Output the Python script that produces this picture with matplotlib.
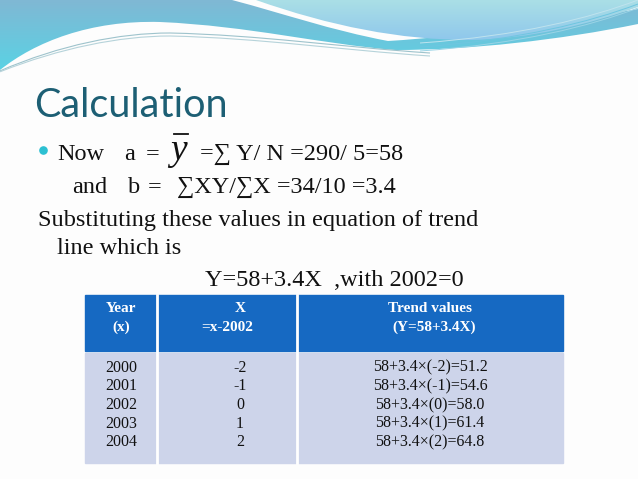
import numpy as np
import matplotlib
matplotlib.use("Agg")
import matplotlib.pyplot as plt
from matplotlib.path import Path
from matplotlib.patches import PathPatch, Rectangle, Circle
from matplotlib.colors import LinearSegmentedColormap

# ---- data ----
years = [2000, 2001, 2002, 2003, 2004]
x_coded = [-2, -1, 0, 1, 2]
trend_values = [51.2, 54.6, 58.0, 61.4, 64.8]
a_val = 58
b_val = 3.4
sum_y = 290
n_obs = 5
sum_xy = 34
sum_x2 = 10
base_year = 2002
header_labels = ["Year\n(x)", "X\n=x-2002", "Trend values\n(Y=58+3.4X)"]

W, H = 638, 479
fig = plt.figure(figsize=(W / 100, H / 100), dpi=100)
ax = fig.add_axes([0, 0, 1, 1])
ax.set_xlim(0, W)
ax.set_ylim(H, 0)
ax.axis("off")
fig.patch.set_facecolor("#fdfdfd")

SERIF = ["Liberation Serif", "DejaVu Serif"]


def bez(points, codes):
    return Path(points, codes)


def grad_fill(path, c_top, c_bot, y0, y1, zorder=1):
    patch = PathPatch(path, facecolor="none", edgecolor="none", zorder=zorder)
    ax.add_patch(patch)
    cmap = LinearSegmentedColormap.from_list("g", [c_top, c_bot])
    g = np.linspace(0, 1, 200).reshape(-1, 1)
    im = ax.imshow(g, cmap=cmap, extent=[0, W, y1, y0], aspect="auto",
                   zorder=zorder, interpolation="bicubic")
    im.set_clip_path(patch)


M, L, C4, CL = Path.MOVETO, Path.LINETO, Path.CURVE4, Path.CLOSEPOLY

# left blue wave (with band running right)
pA = [(0, 0), (232, 0),
      (285, 14), (330, 30), (388, 41),
      (470, 36), (560, 22), (638, 9),
      (638, 24),
      (560, 40), (470, 50), (395, 50),
      (320, 44), (250, 26), (160, 22),
      (90, 20), (35, 42), (0, 70),
      (0, 0)]
cA = [M, L, C4, C4, C4, C4, C4, C4, L, C4, C4, C4, C4, C4, C4, C4, C4, C4, CL]
grad_fill(bez(pA, cA), "#80b8d4", "#5ad2e4", 0, 70, zorder=1)

# right light wave
pB = [(256, 0), (638, 0), (638, 7),
      (590, 24), (530, 39), (470, 40),
      (400, 40), (330, 26), (256, 0),
      (256, 0)]
cB = [M, L, L, C4, C4, C4, C4, C4, C4, CL]
grad_fill(bez(pB, cB), "#aadfe6", "#8ec6ec", 0, 42, zorder=2)

# thin decorative lines
for off, col in [(3, "#9ec3cc"), (6, "#b6d3da")]:
    p = [(0, 70 + off * 0.3), (60, 42 + off), (120, 30 + off), (170, 30 + off),
         (260, 32 + off), (340, 44 + off), (430, 50 + off)]
    ax.add_patch(PathPatch(bez(p, [M, C4, C4, C4, C4, C4, C4]), facecolor="none",
                           edgecolor=col, lw=0.8, zorder=3))
for off, col in [(0, "#6fc6e0"), (4, "#9ad4e6"), (-4, "#bfe3ee")]:
    p = [(420, 47 + off), (520, 40 + off), (590, 22 + off), (638, 4 + off)]
    ax.add_patch(PathPatch(bez(p, [M, C4, C4, C4]), facecolor="none",
                           edgecolor=col, lw=0.7, zorder=3))

# ---- title ----
ax.text(34, 117, "Calculation", fontfamily=["Lato", "DejaVu Sans"], fontsize=28.5,
        color="#1d5f74", va="baseline", ha="left", zorder=5)

# ---- body text ----
fs = 17.5
tc = "#111111"
ax.add_patch(Circle((43.5, 150.5), 3.6, color="#2cc0d2", zorder=5))
ax.text(57, 160, "Now", fontfamily=SERIF, fontsize=fs, color=tc, va="baseline")
ax.text(124, 160, "a", fontfamily=SERIF, fontsize=fs, color=tc, va="baseline")
ax.text(146, 160, "=", fontfamily=SERIF, fontsize=fs, color=tc, va="baseline")
ax.text(170, 160, "y", fontfamily=SERIF, fontsize=27, style="italic", color=tc,
        va="baseline")
ax.plot([174, 188], [134, 134], color=tc, lw=1.3, zorder=5)
ax.text(200, 160, f"=∑ Y/ N ={sum_y}/ {n_obs}={a_val}", fontfamily=SERIF,
        fontsize=fs, color=tc, va="baseline")

ax.text(72, 193, "and", fontfamily=SERIF, fontsize=fs, color=tc, va="baseline")
ax.text(128, 193, "b", fontfamily=SERIF, fontsize=fs, color=tc, va="baseline")
ax.text(148, 193, "=", fontfamily=SERIF, fontsize=fs, color=tc, va="baseline")
ax.text(177, 193, f"∑XY/∑X ={sum_xy}/{sum_x2} ={b_val}", fontfamily=SERIF,
        fontsize=fs, color=tc, va="baseline")

ax.text(38, 226, "Substituting these values in equation of trend", fontfamily=SERIF,
        fontsize=fs, color=tc, va="baseline")
ax.text(57, 254, "line which is", fontfamily=SERIF, fontsize=fs, color=tc,
        va="baseline")
ax.text(205, 286, f"Y={a_val}+{b_val}X  ,with {base_year}=0", fontfamily=SERIF,
        fontsize=fs, color=tc, va="baseline")

# ---- table ----
tx0, tx1 = 85, 563
col_edges = [tx0, 157, 297, tx1]
hy0, hy1 = 295, 351
by0, by1 = 353, 463
ax.add_patch(Rectangle((tx0, hy0), tx1 - tx0, hy1 - hy0, color="#1669c2", zorder=4))
ax.add_patch(Rectangle((tx0, by0), tx1 - tx0, by1 - by0, color="#cdd4ea", zorder=4))
for xe in col_edges[1:-1]:
    ax.plot([xe, xe], [hy0, by1], color="white", lw=2, zorder=5)

hfs = 11
head_x = [(121, 121), (240, 227), (430, 434)]
for (xa, xb), lab in zip(head_x, header_labels):
    l1, l2 = lab.split("\n")
    ax.text(xa, 312.5, l1, fontfamily=SERIF, fontsize=hfs, fontweight="bold",
            color="white", ha="center", va="baseline", zorder=6)
    ax.text(xb, 331, l2, fontfamily=SERIF, fontsize=hfs, fontweight="bold",
            color="white", ha="center", va="baseline", zorder=6)

row_y = [371.5, 390.5, 409, 427.5, 446.5]
bfs = 11.5
for yr, xv, tv, yy in zip(years, x_coded, trend_values, row_y):
    ax.text(121, yy, str(yr), fontfamily=SERIF, fontsize=bfs, color=tc,
            ha="center", va="baseline", zorder=6)
    ax.text(240, yy, str(xv), fontfamily=SERIF, fontsize=bfs, color=tc,
            ha="center", va="baseline", zorder=6)
    xs = f"({xv})"
    ax.text(430, yy, f"{a_val}+{b_val}×{xs}={tv:.1f}", fontfamily=SERIF,
            fontsize=bfs, color=tc, ha="center", va="baseline", zorder=6)

fig.savefig("out.png", dpi=100, facecolor=fig.get_facecolor())
